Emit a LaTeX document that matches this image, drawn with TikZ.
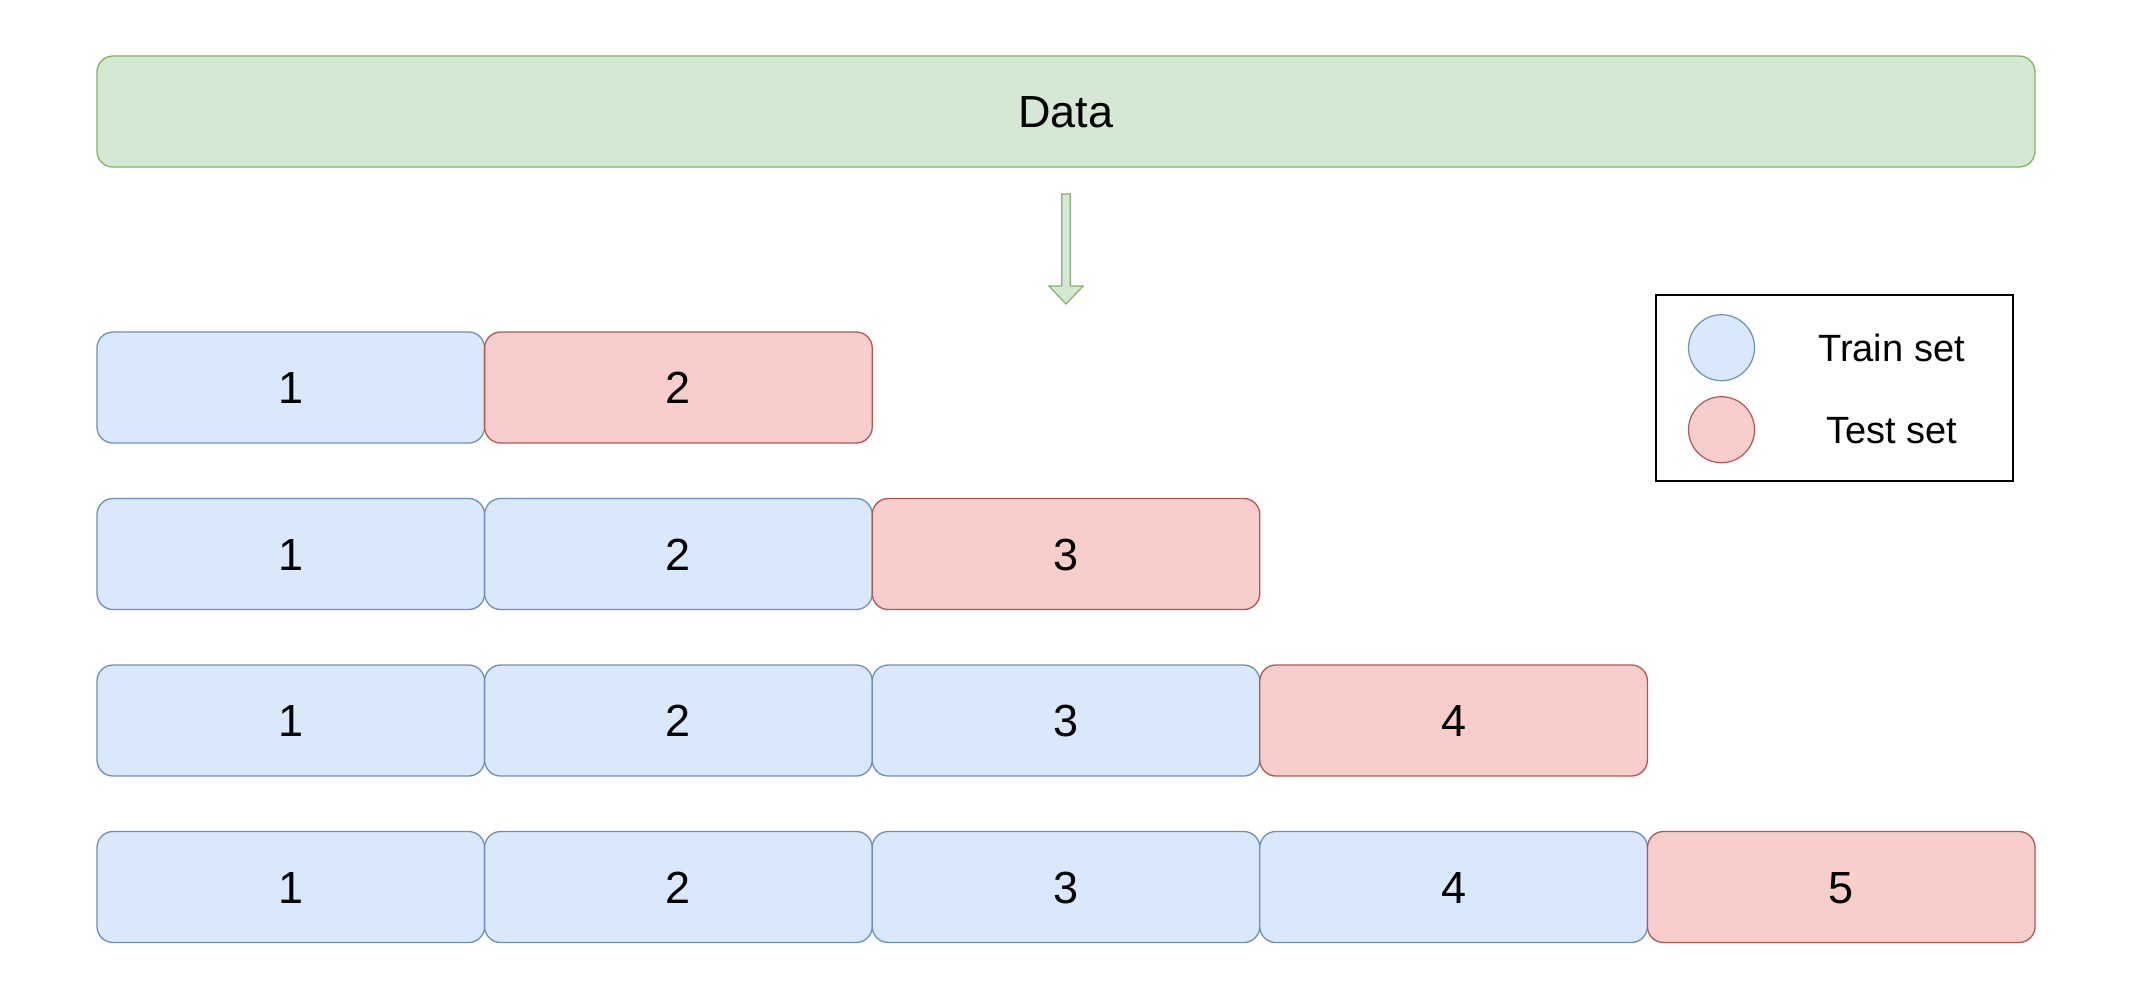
\documentclass[tikz,border=0pt]{standalone}
\usepackage{fontspec}
\setmainfont{Liberation Sans}
\definecolor{bluefill}{HTML}{DAE8FC}
\definecolor{bluedraw}{HTML}{6C8EBF}
\definecolor{redfill}{HTML}{F8CECC}
\definecolor{reddraw}{HTML}{B85450}
\definecolor{greenfill}{HTML}{D5E8D4}
\definecolor{greendraw}{HTML}{82B366}
\tikzset{
  cell/.style={draw, rounded corners=16pt, minimum width=387.6pt, minimum height=111pt,
    inner sep=0pt, line width=1.3pt, font=\fontsize{45}{54}\selectfont,
    text height=32pt, text depth=0pt},
  train/.style={cell, fill=bluefill, draw=bluedraw},
  test/.style={cell, fill=redfill, draw=reddraw},
  databox/.style={cell, fill=greenfill, draw=greendraw, minimum width=1938pt},
  legendmark/.style={circle, minimum size=66pt, inner sep=0pt, line width=1.2pt},
  legendtext/.style={inner sep=0pt, font=\fontsize{38}{46}\selectfont, text height=27.2pt, text depth=0pt},
  blockarrow/.style={fill=greenfill, draw=greendraw, line width=1.2pt, line join=miter}
}
\begin{document}
\begin{tikzpicture}[x=1pt,y=-1pt]
\useasboundingbox[fill=white] (0,0) rectangle (2133,999);
% Data box
\node[databox] (data) at (1066,111.5) {Data};
% block arrow
\coordinate (arrtop) at (1066,194);
\draw[blockarrow] (arrtop) ++(-4.25,0) -- ++(8.5,0) -- ++(0,92) -- ++(12.75,0)
  -- ++(-17,18) -- ++(-17,-18) -- ++(12.75,0) -- cycle;
% rows
\foreach \r in {1,...,4}{
  \pgfmathsetmacro{\yy}{387.5+166.5*(\r-1)}
  \foreach \c in {1,...,\r}{
    \pgfmathsetmacro{\xx}{97+387.6*(\c-0.5)}
    \node[train] (r\r c\c) at (\xx,\yy) {\c};
  }
  \pgfmathtruncatemacro{\t}{\r+1}
  \pgfmathsetmacro{\xx}{97+387.6*(\t-0.5)}
  \node[test] (r\r c\t) at (\xx,\yy) {\t};
}
% legend
\node[draw=black, line width=1.4pt, minimum width=357pt, minimum height=186pt, inner sep=0pt] (legend) at (1834.5,388) {};
\node[legendmark, draw=bluedraw, fill=bluefill] (trainmark) at (1721.5,347.7) {};
\node[legendmark, draw=reddraw, fill=redfill] (testmark) at (1721.5,429.7) {};
\node[legendtext] (traintext) at (1891.5,348) {Train set};
\node[legendtext] (testtext) at (1891.5,430) {Test set};
\end{tikzpicture}
\end{document}
